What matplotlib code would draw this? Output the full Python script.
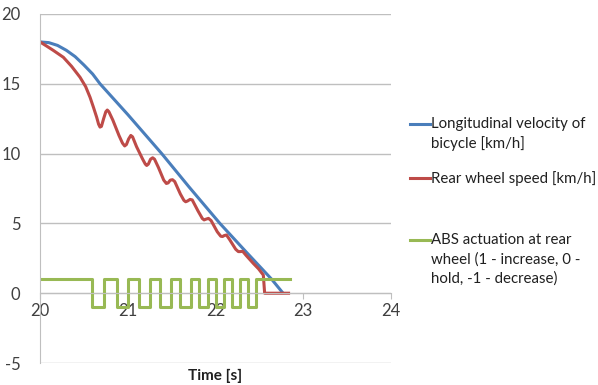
import matplotlib.pyplot as plt
from matplotlib.lines import Line2D

# velocidade longitudinal da bicicleta [km/h]
t_bike = [20.0, 20.1, 20.2, 20.3, 20.4, 20.5, 20.6, 20.684, 21.0, 21.387,
          21.7, 22.05, 22.35, 22.64, 22.77]
v_bike = [18.0, 17.95, 17.75, 17.4, 16.95, 16.35, 15.7, 15.0, 12.8, 10.0,
          7.6, 5.0, 2.95, 1.0, 0.0]

# velocidade da roda traseira [km/h]
t_wheel = [20.0, 20.076, 20.15, 20.266, 20.36, 20.456, 20.52, 20.57, 20.61,
           20.646, 20.668, 20.684, 20.70, 20.725, 20.75, 20.767, 20.785, 20.83,
           20.9, 20.94, 20.965, 20.985, 21.01, 21.035, 21.055, 21.1, 21.17,
           21.2, 21.216, 21.235, 21.26, 21.284, 21.305, 21.35, 21.41, 21.44,
           21.46, 21.485, 21.51, 21.535, 21.6, 21.64, 21.66, 21.68, 21.71,
           21.735, 21.8, 21.85, 21.87, 21.89, 21.92, 21.95, 22.02, 22.06,
           22.08, 22.1, 22.125, 22.16, 22.23, 22.26, 22.28, 22.31, 22.35,
           22.43, 22.49, 22.545, 22.56, 22.85]
v_wheel = [18.0, 17.7, 17.4, 16.9, 16.25, 15.47, 14.8, 14.04, 13.3,
           12.6, 12.1, 11.9, 11.95, 12.5, 13.0, 13.12, 13.0, 12.4,
           11.3, 10.75, 10.55, 10.65, 11.05, 11.3, 11.2, 10.5, 9.6,
           9.25, 9.15, 9.25, 9.6, 9.7, 9.6, 9.0, 8.1, 7.86,
           7.9, 8.1, 8.13, 8.0, 7.1, 6.65, 6.55, 6.6, 6.72,
           6.68, 5.9, 5.35, 5.25, 5.3, 5.36, 5.2, 4.4, 4.08,
           4.06, 4.13, 4.17, 3.85, 3.15, 2.98, 2.98, 3.0, 2.7,
           2.14, 1.75, 1.3, 0.0, 0.0]

# atuacao do ABS (1 aumenta, 0 segura, -1 diminui)
t_abs = [20.0, 20.589, 20.729, 20.874, 21.006, 21.132, 21.254, 21.368, 21.493,
         21.595, 21.717, 21.815, 21.918, 22.006, 22.1, 22.191, 22.279, 22.374,
         22.462, 22.85]
abs_state = [1, -1, 1, -1, 1, -1, 1, -1, 1,
             -1, 1, -1, 1, -1, 1, -1, 1, -1,
             1, 1]

labels = ['Longitudinal velocity of\nbicycle [km/h]',
          'Rear wheel speed [km/h]',
          'ABS actuation at rear\nwheel (1 - increase, 0 -\nhold, -1 - decrease)']
colors = ['#4A7EBB', '#BE4B48', '#98B954']

plt.rcParams['font.family'] = ['Lato', 'DejaVu Sans']
plt.rcParams['axes.unicode_minus'] = False

fig = plt.figure(figsize=(5.98, 3.85), dpi=100)
ax = fig.add_axes([40 / 598, 1 - 363 / 385, 351 / 598, 349 / 385])

ax.plot(t_bike, v_bike, color=colors[0], lw=2.2, solid_capstyle='butt',
        solid_joinstyle='round')
ax.plot(t_wheel, v_wheel, color=colors[1], lw=2.2, solid_capstyle='butt',
        solid_joinstyle='round')
ax.plot(t_abs, abs_state, color=colors[2], lw=2.2, drawstyle='steps-post')

ax.set_xlim(20, 24)
ax.set_ylim(-5, 20)
ax.set_xticks([20, 21, 22, 23, 24])
ax.set_yticks([-5, 0, 5, 10, 15, 20])
ax.grid(axis='y', color='#BFBFBF', lw=1)
ax.set_axisbelow(True)

for s in ['top', 'right']:
    ax.spines[s].set_visible(False)
ax.spines['left'].set_color('#BFBFBF')
ax.spines['bottom'].set_color('#BFBFBF')
ax.spines['bottom'].set_position(('data', 0))
ax.tick_params(axis='y', length=0, pad=14, labelsize=12, colors='#404040')
ax.tick_params(axis='x', length=4, color='#BFBFBF', direction='out',
               pad=3, labelsize=12, labelcolor='#404040')

fig.text(215.5 / 598, 1 - 376 / 385, 'Time [s]', ha='center', va='center',
         fontsize=11, fontweight='bold', color='#202020')

# legenda manual (linha alinhada com a primeira linha do texto)
leg_y = [124, 178, 240]
for y, lab, c in zip(leg_y, labels, colors):
    yf = 1 - y / 385
    fig.add_artist(Line2D([410 / 598, 430 / 598], [yf, yf], color=c, lw=2.2,
                          transform=fig.transFigure))
    fig.text(431 / 598, 1 - (y - 7) / 385, lab, ha='left', va='top',
             fontsize=10.8, color='#202020', linespacing=1.45)

fig.savefig('out.png', dpi=100)
